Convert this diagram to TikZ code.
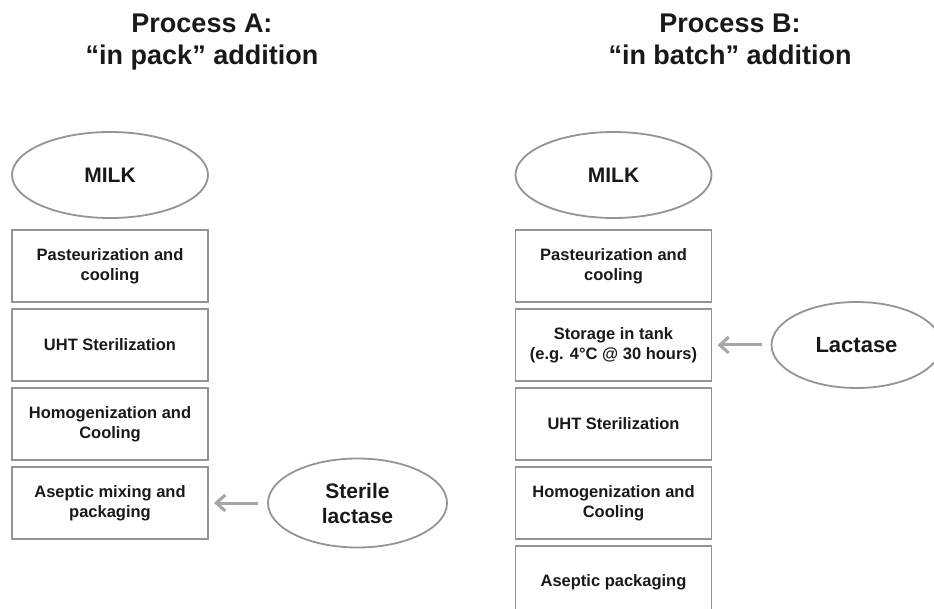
\documentclass[tikz,border=0pt]{standalone}
\usepackage{fontspec}
\setmainfont{Liberation Sans}
\usetikzlibrary{arrows.meta,positioning,shapes.geometric}

\begin{document}
\begin{tikzpicture}[x=1pt,y=1pt,node distance=7pt,
    every node/.style={text=black!90},
    stepbox/.style={draw=black!42,line width=1.8pt,outer sep=0pt,minimum width=196pt,minimum height=72pt,inner sep=0pt,align=center,font=\fontsize{16.5}{20}\selectfont\bfseries},
    source/.style={ellipse,draw=black!42,line width=1.8pt,outer sep=0pt,inner sep=0pt,align=center,font=\fontsize{21}{25}\selectfont\bfseries},
    heading/.style={anchor=north,inner sep=0pt,align=center,font=\fontsize{27}{32}\selectfont\bfseries},
    feed/.style={-{Straight Barb[length=9pt,width=16pt,line width=3pt]},draw=black!35,line width=3pt,shorten <=10pt,shorten >=6pt}]
    \path[use as bounding box] (0,0) rectangle (934,-609);
    \clip (0,0) rectangle (934,-609);
    \node[heading] (headA) at (202,-13.7) {Process A:\\“in pack” addition};
    \node[heading] (headB) at (730,-13.7) {Process B:\\“in batch” addition};
    \node[source,minimum width=196pt,minimum height=86pt] (milkA) at (110,-175) {MILK};
    \node[stepbox] (pasteA) [below=12pt of milkA] {Pasteurization and\\cooling};
    \node[stepbox] (uhtA) [below=of pasteA] {UHT Sterilization};
    \node[stepbox] (homoA) [below=of uhtA] {Homogenization and\\Cooling};
    \node[stepbox] (asepA) [below=of homoA] {Aseptic mixing and\\packaging};
    \node[source,minimum width=179pt,minimum height=89pt] (sterile) [right=60pt of asepA] {Sterile\\lactase};
    \node[source,minimum width=196pt,minimum height=86pt] (milkB) at (613.5,-175) {MILK};
    \node[stepbox] (pasteB) [below=12pt of milkB] {Pasteurization and\\cooling};
    \node[stepbox] (storeB) [below=of pasteB] {Storage in tank\\(e.g. 4°C @ 30 hours)};
    \node[stepbox] (uhtB) [below=of storeB] {UHT Sterilization};
    \node[stepbox] (homoB) [below=of uhtB] {Homogenization and\\Cooling};
    \node[stepbox] (asepB) [below=of homoB] {Aseptic packaging};
    \node[source,minimum width=170pt,minimum height=86pt,font=\fontsize{22}{26}\selectfont\bfseries] (lactase) [right=60pt of storeB] {Lactase};
    \draw[feed] (sterile) -- (asepA);
    \draw[feed] (lactase) -- (storeB);
\end{tikzpicture}
\end{document}
